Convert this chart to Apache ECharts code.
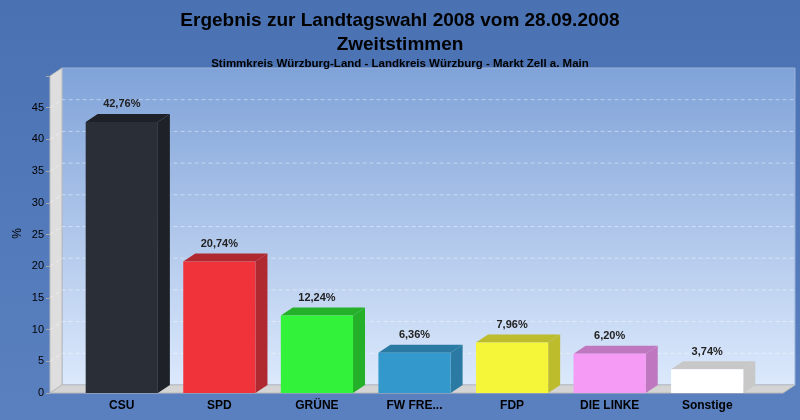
<!DOCTYPE html>
<html><head><meta charset="utf-8">
<script src="https://cdn.jsdelivr.net/npm/echarts@6/dist/echarts.min.js"></script>
<style>html,body{margin:0;padding:0;}#c{width:800px;height:420px;}</style>
</head><body><div id="c"></div>
<script>
var categories = ['CSU', 'SPD', 'GRÜNE', 'FW FRE...', 'FDP', 'DIE LINKE', 'Sonstige'];
var values = [42.76, 20.74, 12.24, 6.36, 7.96, 6.20, 3.74];
var labels = ['42,76%', '20,74%', '12,24%', '6,36%', '7,96%', '6,20%', '3,74%'];
var colors = ['#2a2e36', '#f0323a', '#33f23a', '#3399cc', '#f5f53a', '#f59af5', '#ffffff'];
var sideColors = ['#1e2228', '#b02830', '#25b02a', '#2a7aa3', '#bcbc2c', '#bf78bf', '#c8c8c8'];

var chart = echarts.init(document.getElementById('c'));
var DX = 12, DY = 8;

chart.setOption({
    backgroundColor: new echarts.graphic.LinearGradient(0, 0, 0, 1, [
        {offset: 0, color: '#4a72b2'}, {offset: 1, color: '#5a80c0'}
    ]),
    title: [
        {text: 'Ergebnis zur Landtagswahl 2008 vom 28.09.2008\nZweitstimmen', left: 'center', top: 4,
         textStyle: {fontFamily: 'Arial', fontSize: 19, fontWeight: 'bold', color: '#000', lineHeight: 24}},
        {text: 'Stimmkreis Würzburg-Land - Landkreis Würzburg - Markt Zell a. Main', left: 'center', top: 53,
         textStyle: {fontFamily: 'Arial', fontSize: 11.5, fontWeight: 'bold', color: '#000'}}
    ],
    graphic: [
        {type: 'rect', z: -10, shape: {x: 62, y: 68, width: 733, height: 317},
         style: {fill: new echarts.graphic.LinearGradient(0, 0, 0, 1, [
             {offset: 0, color: '#7fa2d8'}, {offset: 1, color: '#dce9fc'}]), stroke: '#9ab0d8'}},
        {type: 'polygon', z: -10, shape: {points: [[50, 76], [62, 68], [62, 385], [50, 393]]},
         style: {fill: '#dedede', stroke: '#bbb'}},
        {type: 'polygon', z: -10, shape: {points: [[50, 393], [62, 385], [795, 385], [783, 393]]},
         style: {fill: '#d4d4d4', stroke: '#bbb'}},
        {type: 'text', left: 12, top: 228, rotation: Math.PI / 2,
         style: {text: '%', fill: '#000', font: '12px Arial'}}
    ],
    grid: {left: 73, right: 44, top: 76, bottom: 27},
    xAxis: {
        type: 'category', data: categories,
        axisLine: {show: false}, axisTick: {show: false},
        axisLabel: {color: '#000', fontFamily: 'Arial', fontWeight: 'bold', fontSize: 12, margin: 7}
    },
    yAxis: {
        type: 'value', min: 0, max: 50, interval: 5, offset: 23,
        axisLine: {show: false}, axisTick: {show: true, length: 4, lineStyle: {color: '#aaa'}},
        axisLabel: {color: '#000', fontFamily: 'Arial', fontSize: 11, margin: 6,
            formatter: function (v) { return v === 50 ? '' : v; }},
        splitLine: {show: false}
    },
    series: [
        {
            type: 'custom',
            renderItem: function (params, api) {
                var children = [];
                for (var v = 5; v <= 45; v += 5) {
                    var p = api.coord([0, v]);
                    children.push({type: 'polyline', shape: {points: [[50, p[1]], [50 + DX, p[1] - DY], [783 + DX, p[1] - DY]]},
                        style: {stroke: 'rgba(255,255,255,0.45)', lineDash: [4, 3], fill: null, lineWidth: 1}});
                }
                return params.dataIndex === 0 ? {type: 'group', children: children} : null;
            },
            data: [0], z: 1, silent: true
        },
        {
            type: 'custom',
            renderItem: function (params, api) {
                var i = api.value(0);
                var top = api.coord([i, api.value(1)]);
                var base = api.coord([i, 0]);
                var w = api.size([1, 0])[0] * 0.74;
                var x0 = top[0] - w / 2, x1 = x0 + w;
                return {type: 'group', children: [
                    {type: 'polygon', shape: {points: [[x1, top[1]], [x1 + DX, top[1] - DY], [x1 + DX, base[1] - DY], [x1, base[1]]]},
                     style: {fill: sideColors[i]}},
                    {type: 'polygon', shape: {points: [[x0, top[1]], [x0 + DX, top[1] - DY], [x1 + DX, top[1] - DY], [x1, top[1]]]},
                     style: {fill: sideColors[i]}},
                    {type: 'rect', shape: {x: x0, y: top[1], width: w, height: base[1] - top[1]},
                     style: {fill: colors[i]}},
                    {type: 'text', style: {text: labels[i], x: top[0], y: top[1] - DY - 4, align: 'center', verticalAlign: 'bottom',
                        fill: '#222', font: 'bold 11px Arial'}}
                ]};
            },
            data: values.map(function (v, i) { return [i, v]; }),
            z: 2
        }
    ]
});
</script></body></html>
